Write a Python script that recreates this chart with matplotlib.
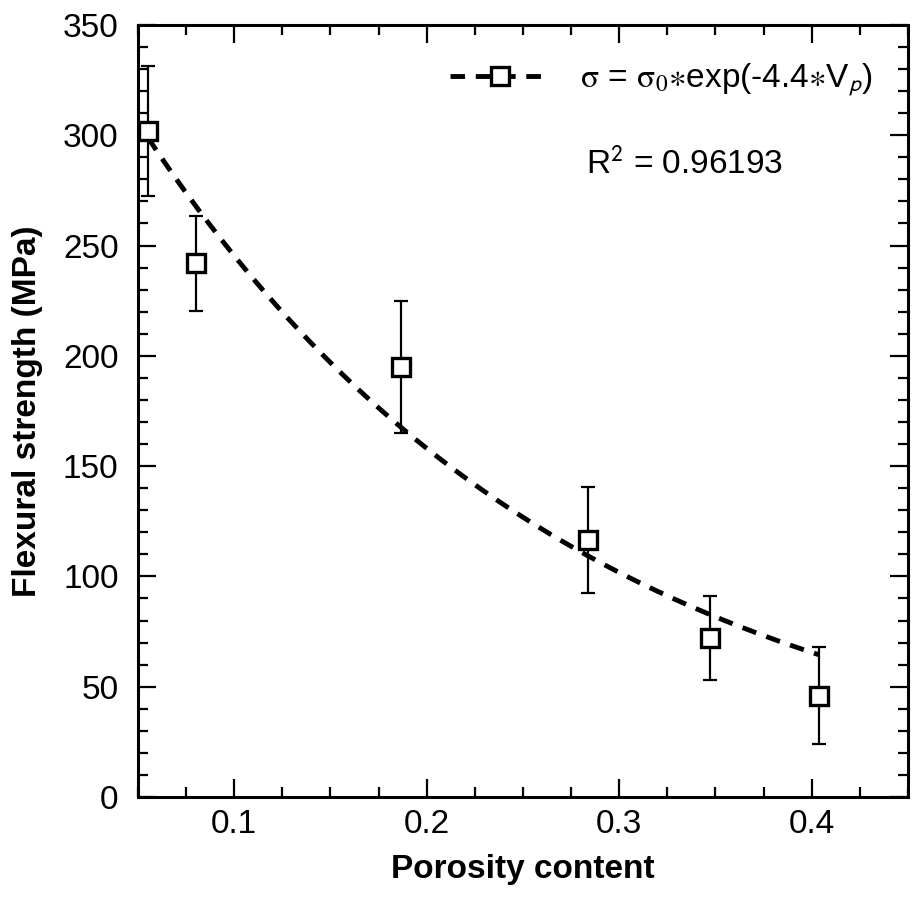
import matplotlib
matplotlib.use("Agg")
import matplotlib.pyplot as plt
import numpy as np
from matplotlib.lines import Line2D
from matplotlib.ticker import MultipleLocator

# measured data
porosity = [0.0552, 0.080, 0.1865, 0.284, 0.347, 0.404]
strength = [302, 242, 195, 116.5, 72, 46]
strength_err = [29.5, 21.5, 30, 24, 19, 22]

# fit parameters: sigma = sigma0 * exp(k * Vp)
sigma0 = 381
k = -4.4
r_squared = "0.96193"

plt.rcParams['font.family'] = ['Liberation Sans', 'DejaVu Sans']
plt.rcParams['mathtext.fontset'] = 'stix'

fig = plt.figure(figsize=(9.15, 8.99), dpi=100)
ax = fig.add_axes([0.1508, 0.1135, 0.8415, 0.8587])

# fitted curve
xfit = np.linspace(min(porosity), max(porosity), 200)
ax.plot(xfit, sigma0 * np.exp(k * xfit), color="black", lw=3.5,
        linestyle=(0, (3.0, 2.2)), zorder=2)

# data points with error bars
ax.errorbar(porosity, strength, yerr=strength_err, fmt="none", ecolor="black",
            elinewidth=1.6, capsize=5, capthick=1.6, zorder=3)
ax.plot(porosity, strength, linestyle="none", marker="s", ms=13,
        mfc="white", mec="black", mew=2.4, zorder=4)

ax.set_xlim(0.05, 0.45)
ax.set_ylim(0, 350)
ax.xaxis.set_major_locator(MultipleLocator(0.1))
ax.xaxis.set_minor_locator(MultipleLocator(0.025))
ax.yaxis.set_major_locator(MultipleLocator(50))
ax.yaxis.set_minor_locator(MultipleLocator(10))
ax.tick_params(which="both", direction="in", top=True, right=True, width=1.6,
               labelsize=24)
ax.tick_params(axis="x", pad=9)
ax.tick_params(axis="y", pad=14)
ax.tick_params(which="major", length=13)
ax.tick_params(which="minor", length=7.5)
for s in ax.spines.values():
    s.set_linewidth(2.2)

ax.set_xlabel("Porosity content", fontsize=24, fontweight="bold", labelpad=10)
ax.set_ylabel("Flexural strength (MPa)", fontsize=24, fontweight="bold", labelpad=14)

handle = Line2D([], [], color="black", lw=3.5, linestyle=(0, (3.0, 2.2)),
                marker="s", ms=13, mfc="white", mec="black", mew=2.4)
label = r"$\mathrm{\sigma}$ = $\mathrm{\sigma}_{\mathrm{0}}$$\ast$exp(-4.4$\ast$V$_\mathsf{p}$)"
ax.legend([handle], [label], loc="center left", frameon=False, fontsize=24,
          bbox_to_anchor=((450 - 138) / 770, 1 - (80 - 25) / 772),
          borderaxespad=0, borderpad=0, handlelength=3.0, handletextpad=0.9)

ax.text(0.283, 287, r"R$^\mathsf{2}$ = " + r_squared, fontsize=24, va="center")

fig.savefig("out.png", dpi=100)
